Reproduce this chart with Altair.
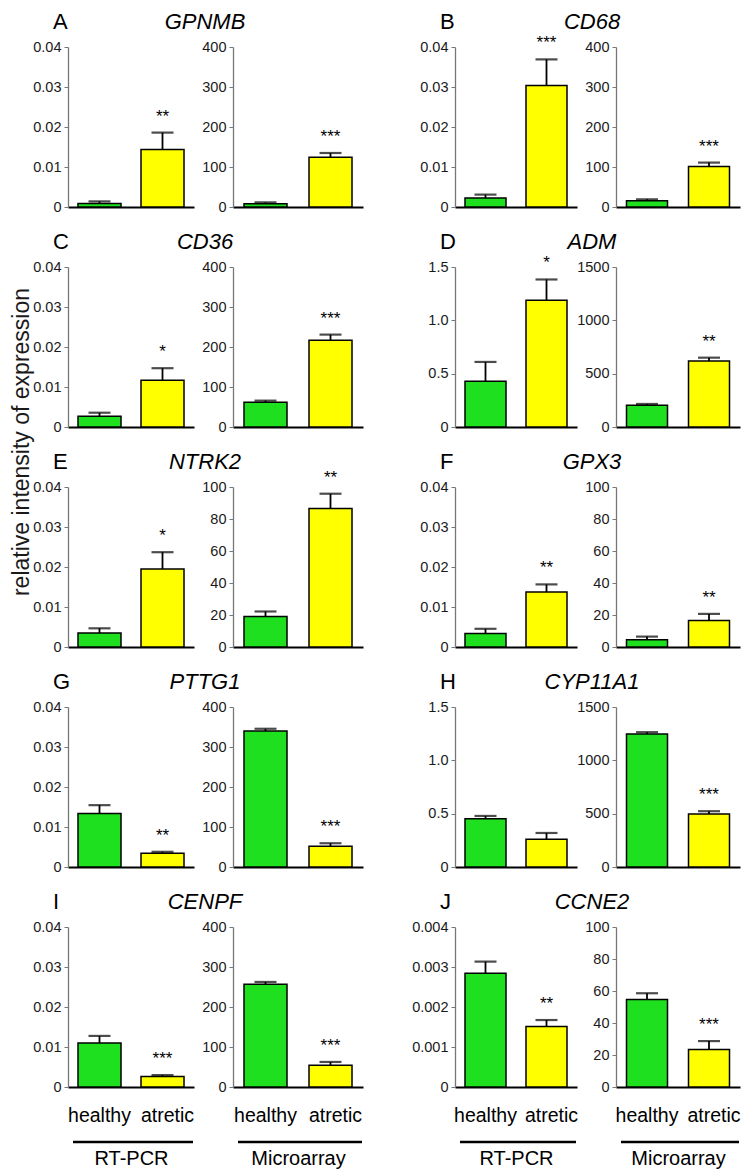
import altair as alt
import pandas as pd

# ---------------- data ----------------
genes = ["GPNMB", "CD68", "CD36", "ADM", "NTRK2", "GPX3", "PTTG1", "CYP11A1", "CENPF", "CCNE2"]
letters = ["A", "B", "C", "D", "E", "F", "G", "H", "I", "J"]
groups = ["healthy", "atretic"]
bar_colors = ["#1fe01f", "#ffff00"]
methods = ["RT-PCR", "Microarray"]

rt_healthy = [0.0009, 0.00225, 0.00267, 0.43, 0.00347, 0.00335, 0.01336, 0.4516, 0.01097, 0.002845]
rt_healthy_err = [0.0005, 0.00085, 0.0009, 0.18, 0.0012, 0.0012, 0.0021, 0.027, 0.0018, 0.00029]
rt_atretic = [0.0144, 0.0304, 0.0117, 1.188, 0.0195, 0.01375, 0.00346, 0.26, 0.00264, 0.00151]
rt_atretic_err = [0.0042, 0.0065, 0.003, 0.195, 0.0042, 0.0019, 0.00034, 0.059, 0.00033, 0.000164]
rt_sig = ["**", "***", "*", "*", "*", "**", "**", "", "***", "**"]

ma_healthy = [8.3, 15.9, 61.8, 204, 19.1, 4.6, 339.8, 1248, 257, 54.7]
ma_healthy_err = [3.3, 3.3, 4.1, 12, 3.1, 1.9, 5.8, 16, 5.6, 3.9]
ma_atretic = [124.5, 101, 217, 619, 86.5, 16.5, 52, 498, 54.5, 23.4]
ma_atretic_err = [10.5, 10, 14, 31, 9.3, 4.2, 7.4, 25, 8.1, 5.3]
ma_sig = ["***", "***", "***", "**", "**", "**", "***", "***", "***", "***"]

# axis tick labels
rt_ticks = [
    [0, 0.01, 0.02, 0.03, 0.04], [0, 0.01, 0.02, 0.03, 0.04], [0, 0.01, 0.02, 0.03, 0.04],
    [0, 0.5, 1.0, 1.5], [0, 0.01, 0.02, 0.03, 0.04], [0, 0.01, 0.02, 0.03, 0.04],
    [0, 0.01, 0.02, 0.03, 0.04], [0, 0.5, 1.0, 1.5], [0, 0.01, 0.02, 0.03, 0.04],
    [0, 0.001, 0.002, 0.003, 0.004],
]
rt_fmt = [".2f", ".2f", ".2f", ".1f", ".2f", ".2f", ".2f", ".1f", ".2f", ".3f"]
ma_ticks = [
    [0, 100, 200, 300, 400], [0, 100, 200, 300, 400], [0, 100, 200, 300, 400],
    [0, 500, 1000, 1500], [0, 20, 40, 60, 80, 100], [0, 20, 40, 60, 80, 100],
    [0, 100, 200, 300, 400], [0, 500, 1000, 1500], [0, 100, 200, 300, 400],
    [0, 20, 40, 60, 80, 100],
]
ma_fmt = ["d"] * 10

y_title = "relative intensity of expression"

# ---------------- layout ----------------
H = 160
FONT = "Liberation Sans"
widths = {(0, 0): 126, (0, 1): 130, (1, 0): 122, (1, 1): 124}
bar_sizes = {0: 43, 1: 41}


def make_cell(vals, errs, sig, ticks, fmt, width, bar_size, bottom, method,
              letter=None, gene=None, ytitle=False):
    df = pd.DataFrame({
        "group": groups,
        "value": vals,
        "upper": [v + e for v, e in zip(vals, errs)],
        "sig": ["", sig],
    })
    if bottom:
        xaxis = alt.Axis(labelAngle=0, labelFontSize=19.5, labelColor="black", labelPadding=19,
                         labelOffset={"condition": {"test": "datum.value == 'atretic'", "value": 5},
                                      "value": 0},
                         ticks=False, tickSize=0, domainColor="black", domainWidth=2,
                         title=method, titleFontSize=20, titleFontWeight="normal",
                         titleColor="black", titlePadding=24)
    else:
        xaxis = alt.Axis(labels=False, ticks=False, tickSize=0, domainColor="black",
                         domainWidth=2, title=None)
    xenc = dict(field="group", type="nominal",
                scale=alt.Scale(domain=groups, paddingInner=0, paddingOuter=0),
                axis=xaxis, sort=groups)
    yscale = alt.Scale(domain=[ticks[0], ticks[-1]], nice=False, zero=True)
    yaxis = alt.Axis(values=ticks, labelExpr=f"datum.value == 0 ? '0' : format(datum.value, '{fmt}')",
                     title=None, grid=False, domainColor="#777777", domainWidth=1.3,
                     tickColor="#777777", tickSize=4, labelPadding=3, labelFontSize=14.5,
                     labelColor="#1a1a1a")
    base = alt.Chart(df)
    bars = base.mark_bar(size=bar_size, stroke="black", strokeWidth=1.5).encode(
        x=alt.X(**xenc),
        y=alt.Y("value:Q", scale=yscale, axis=yaxis),
        color=alt.Color("group:N", scale=alt.Scale(domain=groups, range=bar_colors), legend=None),
    )
    err = base.mark_rule(color="black", strokeWidth=1.8).encode(
        x=alt.X(**xenc),
        y=alt.Y("value:Q", scale=yscale, axis=yaxis),
        y2="upper:Q",
    )
    cap = base.mark_tick(color="black", size=22, thickness=2.2).encode(
        x=alt.X(**xenc),
        y=alt.Y("upper:Q", scale=yscale, axis=yaxis),
    )
    stars = base.mark_text(dy=-11, baseline="alphabetic", fontSize=17, color="black").encode(
        x=alt.X(**xenc),
        y=alt.Y("upper:Q", scale=yscale, axis=yaxis),
        text="sig:N",
    )
    layers = [bars, err, cap, stars]
    if letter is not None:
        layers.append(alt.Chart(pd.DataFrame({"t": [letter]})).mark_text(
            align="left", baseline="alphabetic", fontSize=22, color="black").encode(
            text="t:N", x=alt.value(-15), y=alt.value(-18)))
        layers.append(alt.Chart(pd.DataFrame({"t": [gene]})).mark_text(
            align="center", baseline="alphabetic", fontSize=22, fontStyle="italic",
            color="black").encode(text="t:N", x=alt.value(137), y=alt.value(-18)))
    if ytitle:
        layers.append(alt.Chart(pd.DataFrame({"t": [y_title]})).mark_text(
            align="center", baseline="middle", fontSize=23, angle=270, color="#1a1a1a").encode(
            text="t:N", x=alt.value(-46), y=alt.value(175)))
    if bottom:
        layers.append(alt.Chart(pd.DataFrame({"t": [method]})).mark_rule(
            color="black", strokeWidth=2.5).encode(
            x=alt.value(5), x2=alt.value(width - 1), y=alt.value(H + 55)))
    return alt.layer(*layers).properties(width=width, height=H)


def spacer():
    return alt.Chart(pd.DataFrame({"a": [0]})).mark_point(opacity=0).encode(
        x=alt.X("a:Q", axis=None), y=alt.Y("a:Q", axis=None)
    ).properties(width=14, height=H)


cells = []
for r in range(5):
    for side in (0, 1):
        g = 2 * r + side
        bottom = r == 4
        cells.append(make_cell([rt_healthy[g], rt_atretic[g]], [rt_healthy_err[g], rt_atretic_err[g]],
                               rt_sig[g], rt_ticks[g], rt_fmt[g], widths[(side, 0)], bar_sizes[side],
                               bottom, methods[0], letter=letters[g], gene=genes[g],
                               ytitle=(r == 1 and side == 0)))
        cells.append(make_cell([ma_healthy[g], ma_atretic[g]], [ma_healthy_err[g], ma_atretic_err[g]],
                               ma_sig[g], ma_ticks[g], ma_fmt[g], widths[(side, 1)], bar_sizes[side],
                               bottom, methods[1]))
        if side == 0:
            cells.append(spacer())

chart = alt.concat(*cells, columns=5, spacing={"row": 60, "column": 39},
                   bounds="flush", align="each").resolve_scale(
    x="independent", y="independent", color="independent"
).properties(padding={"top": 3, "left": 2, "right": 0, "bottom": 0}).configure(
    font=FONT).configure_view(stroke=None).configure_axis(labelFont=FONT, titleFont=FONT)

chart.save("out.html", embed_options={"renderer": "svg", "actions": False})
